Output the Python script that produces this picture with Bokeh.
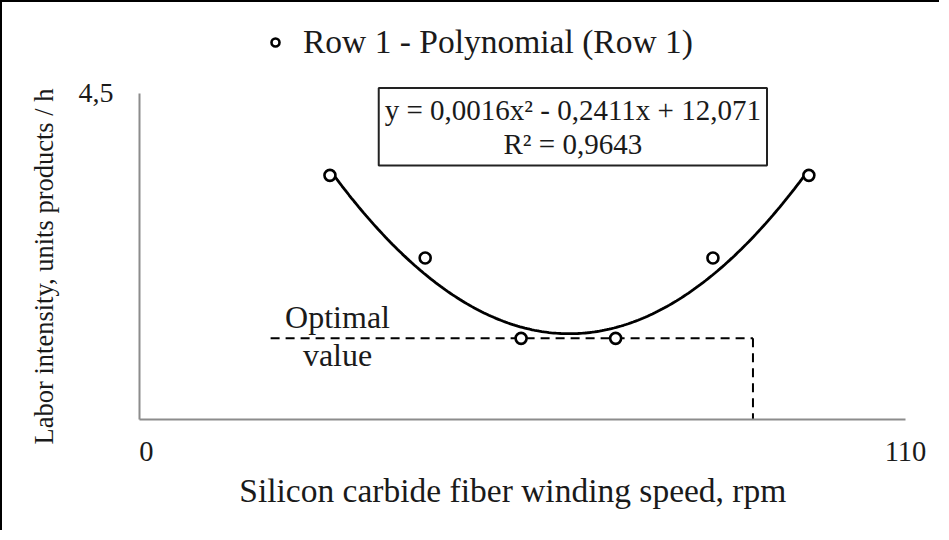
import math
from bokeh.plotting import figure
from bokeh.models import Range1d, FixedTicker, Label, Legend, LegendItem, ColumnDataSource
from bokeh.embed import file_html
from bokeh.resources import INLINE
import numpy as np

# ---- data ----
speed = [26.6, 40.4, 54.3, 68.0, 82.1, 96.0]
labor = [3.37, 2.23, 1.12, 1.12, 2.23, 3.37]
x_ticks = [0, 110]
y_ticks = [4.5]
y_tick_labels = {4.5: "4,5"}
x_axis_span = (-1, 110)
y_axis_span = (0, 4.5)
optimal_speed = 87.9
optimal_labor = 1.12
optimal_line_start = 18.0
equation = "y = 0,0016x² - 0,2411x + 12,071"
r_squared = "R² = 0,9643"
legend_label = "Row 1 - Polynomial (Row 1)"
x_title = "Silicon carbide fiber winding speed, rpm"
y_title = "Labor intensity, units products / h"

FONT = "Liberation Serif"
TXT = "#1a1a1a"

# polynomial trendline (order 2) fitted to the data
coef = np.polyfit(speed, labor, 2)
xs = np.linspace(min(speed), max(speed), 200)
ys = np.polyval(coef, xs)

# the frame fills the whole canvas; axes sit at fixed data locations
p = figure(width=939, height=530, output_backend="svg", toolbar_location=None,
           x_range=Range1d(-20.85, 115.22), y_range=Range1d(-1.56, 5.756),
           min_border_left=0, min_border_right=0, min_border_top=0, min_border_bottom=0)
p.styles = {"border-top": "2px solid #000", "border-left": "2px solid #000"}
p.outline_line_color = None
p.grid.visible = False
p.background_fill_color = "white"
p.border_fill_color = "white"

for ax in (p.xaxis[0], p.yaxis[0]):
    ax.axis_line_color = "#8c8c8c"
    ax.axis_line_width = 2
    ax.major_tick_line_color = None
    ax.minor_tick_line_color = None
    ax.major_label_text_font = FONT
    ax.major_label_text_color = TXT

p.xaxis.fixed_location = y_axis_span[0]
p.xaxis.bounds = x_axis_span
p.xaxis.ticker = FixedTicker(ticks=x_ticks)
p.xaxis.major_label_text_font_size = "28.5px"
p.xaxis.major_label_standoff = 17

p.yaxis.fixed_location = x_axis_span[0]
p.yaxis.bounds = y_axis_span
p.yaxis.ticker = FixedTicker(ticks=y_ticks)
p.yaxis.major_label_overrides = y_tick_labels
p.yaxis.major_label_text_font_size = "28px"
p.yaxis.major_label_standoff = 20
p.yaxis.major_label_orientation = "horizontal"

# axis titles
p.add_layout(Label(x=53.1, y=-0.98, text=x_title, text_align="center", text_baseline="middle",
                   text_font=FONT, text_font_size="33.5px", text_color=TXT))
p.add_layout(Label(x=-14.9, y=2.112, text=y_title, angle=math.pi / 2, text_align="center",
                   text_baseline="middle", text_font=FONT, text_font_size="26.5px", text_color=TXT))

# optimal value dashed guides
p.line([optimal_line_start, optimal_speed], [optimal_labor, optimal_labor],
       line_color="black", line_width=2, line_dash="9 6")
p.line([optimal_speed, optimal_speed], [optimal_labor, 0],
       line_color="black", line_width=2, line_dash="9 6")

# trendline
p.line(xs, ys, line_color="black", line_width=2.8)

# data points
src = ColumnDataSource(dict(x=speed, y=labor))
pts = p.scatter("x", "y", source=src, size=11, marker="circle",
                fill_color="white", line_color="black", line_width=2.6)

legend = Legend(items=[LegendItem(label=legend_label, renderers=[pts])],
                location=(263, 471), orientation="horizontal",
                border_line_color=None, background_fill_alpha=0,
                padding=0, margin=0, glyph_width=20, label_standoff=18,
                label_text_font=FONT, label_text_font_size="33.5px", label_text_color=TXT)
p.add_layout(legend, "center")

eq = Label(x=61.8, y=4.04, text=equation + "\n" + r_squared, text_align="center",
           text_baseline="middle", text_font=FONT, text_font_size="29px", text_color=TXT,
           text_line_height=1.05,
           border_line_color="#222222", border_line_width=2, background_fill_color="white",
           padding=6)
p.add_layout(eq)

p.add_layout(Label(x=27.7, y=1.42, text="Optimal", text_align="center", text_baseline="alphabetic",
                   text_font=FONT, text_font_size="32px", text_color=TXT))
p.add_layout(Label(x=27.7, y=0.895, text="value", text_align="center", text_baseline="alphabetic",
                   text_font=FONT, text_font_size="32px", text_color=TXT))

open("out.html", "w").write(file_html(p, INLINE))
